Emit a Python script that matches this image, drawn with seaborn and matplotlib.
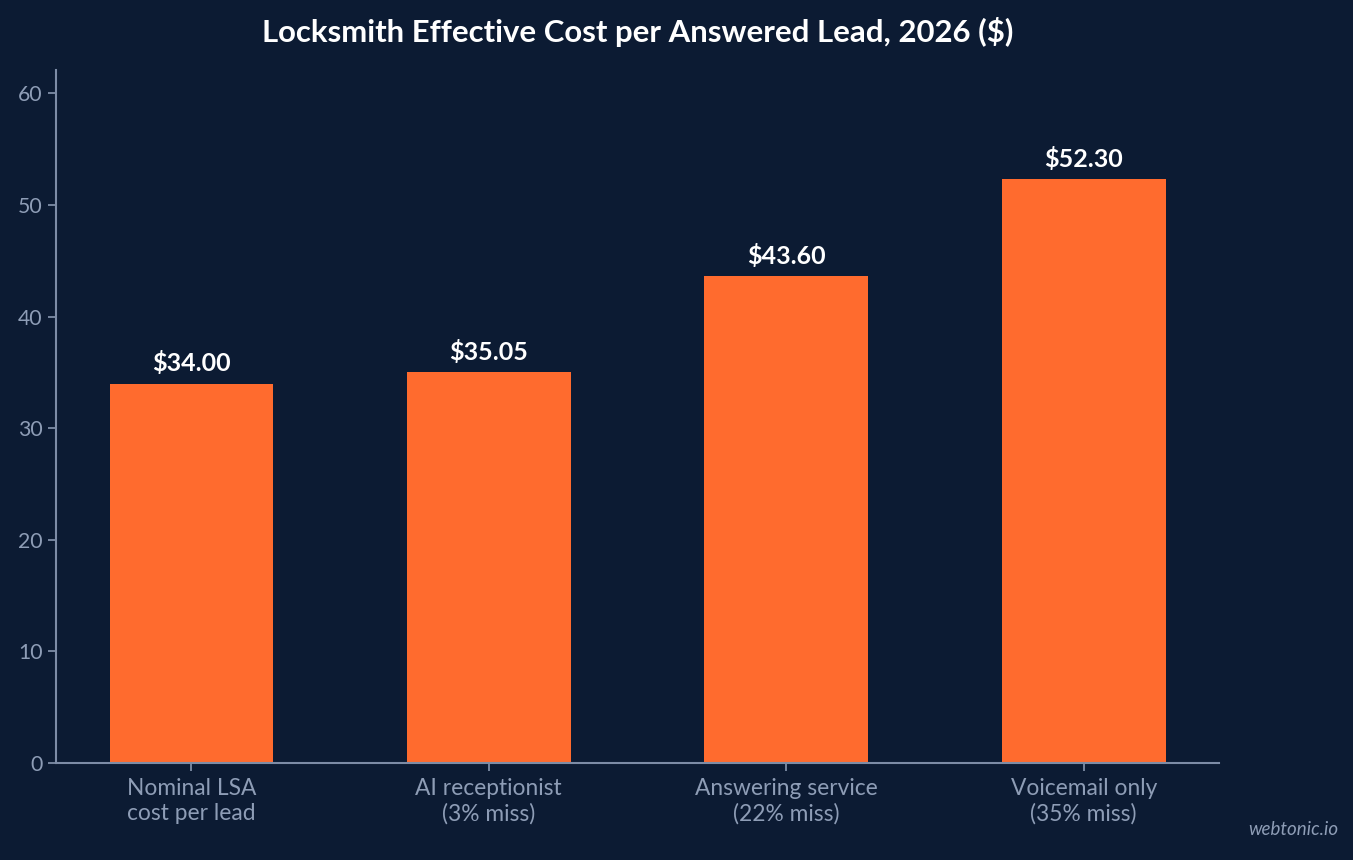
import pandas as pd
import seaborn as sns
import matplotlib.pyplot as plt

# --- Data ---
categories = [
    "Nominal LSA\ncost per lead",
    "AI receptionist\n(3% miss)",
    "Answering service\n(22% miss)",
    "Voicemail only\n(35% miss)",
]
costs = [34.00, 35.05, 43.60, 52.30]

df = pd.DataFrame({"Scenario": categories, "Cost": costs})

# --- Style ---
bg = "#0c1b33"
axis_col = "#7d8ca6"
text_col = "#8e9db6"
bar_col = "#ff6b2e"

sns.set_theme(style="ticks")
plt.rcParams["font.family"] = ["Lato", "DejaVu Sans"]

fig = plt.figure(figsize=(13.53, 8.6), dpi=100, facecolor=bg)
ax = fig.add_axes([0.0414, 0.1128, 0.8596, 0.8058])
ax.set_facecolor(bg)

sns.barplot(data=df, x="Scenario", y="Cost", color=bar_col, width=0.55,
            saturation=1, linewidth=0, ax=ax)

# value labels
for i, v in enumerate(costs):
    ax.annotate(f"${v:.2f}", (i, v), xytext=(0, 6), textcoords="offset points",
                ha="center", va="bottom", color="white", fontsize=18,
                fontweight="bold")

ax.set_xlim(-0.455, 3.455)
ax.set_ylim(0, 62.1)
ax.set_yticks(range(0, 61, 10))
ax.set_xlabel("")
ax.set_ylabel("")

for side in ["top", "right"]:
    ax.spines[side].set_visible(False)
for side in ["left", "bottom"]:
    ax.spines[side].set_color(axis_col)
    ax.spines[side].set_linewidth(1.5)
ax.tick_params(colors=axis_col, labelcolor=text_col, labelsize=15.3, width=1.3, length=6)
ax.tick_params(axis="x", labelsize=16.4, pad=5)

fig.suptitle("Locksmith Effective Cost per Answered Lead, 2026 ($)", x=0.471, y=0.98,
             color="white", fontsize=22.4, fontweight="bold")
fig.text(0.989, 0.026, "webtonic.io", ha="right", va="bottom", color=text_col,
         fontsize=13.5, fontstyle="italic")

fig.savefig("out.png", dpi=100, facecolor=bg)
